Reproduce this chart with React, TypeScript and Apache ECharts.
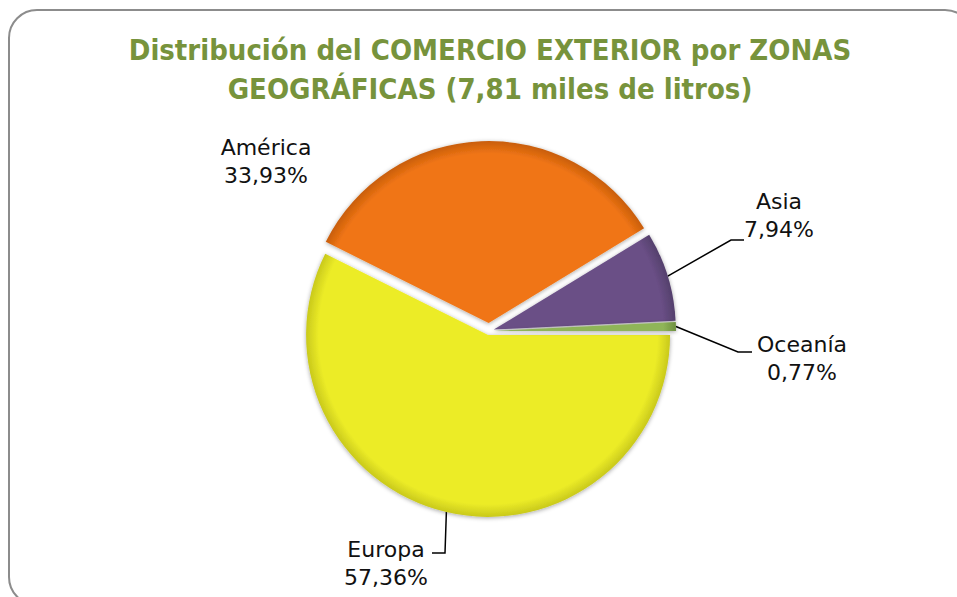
import React, { useEffect, useRef } from 'react';
import * as echarts from 'echarts';

const zones = ['Europa', 'América', 'Asia', 'Oceanía'];
const shares = [57.36, 33.93, 7.94, 0.77];
const sliceColors = ['#ECEC27', '#F07514', '#6A4F86', '#8FB558'];
const sliceRims = ['#C9C91C', '#C85E0C', '#54406C', '#6E9040'];
const explodePx = [4, 8, 5, 5];
const titleText = 'Distribución del COMERCIO EXTERIOR por ZONAS\nGEOGRÁFICAS (7,81 miles de litros)';

// label centre and leader-line elbows (page px)
const labelSpots: Record<number, { x: number; y: number; line: number[][] | null }> = {
  0: { x: 386, y: 563, line: [[445, 553], [432, 553]] },
  1: { x: 266, y: 161, line: null },
  2: { x: 779, y: 215, line: [[731, 240], [744, 240]] },
  3: { x: 802, y: 358, line: [[738, 352], [752, 352]] },
};

const CENTER = [489, 331];
const RADIUS = 182;

function fmt(v: number) {
  return v.toFixed(2).replace('.', ',');
}

export default function App() {
  const ref = useRef<HTMLDivElement>(null);
  useEffect(() => {
    if (!ref.current) return;
    const chart = echarts.init(ref.current, undefined, { renderer: 'svg' });
    const total = shares.reduce((a, b) => a + b, 0);
    let cum = 0;
    const series = zones.map((zone, k) => {
      const mid = -((cum + shares[k] / 2) / total) * 2 * Math.PI;
      cum += shares[k];
      const cx = CENTER[0] + Math.cos(mid) * explodePx[k];
      const cy = CENTER[1] - Math.sin(mid) * explodePx[k];
      return {
        type: 'pie',
        center: [cx, cy],
        radius: RADIUS,
        startAngle: 0,
        clockwise: true,
        avoidLabelOverlap: false,
        emphasis: { disabled: true },
        z: 2,
        data: zones.map((name, i) => ({
          name,
          value: shares[i],
          itemStyle:
            i === k
              ? {
                  color: {
                    type: 'radial',
                    x: cx,
                    y: cy,
                    r: RADIUS,
                    global: true,
                    colorStops: [
                      { offset: 0, color: sliceColors[i] },
                      { offset: 0.93, color: sliceColors[i] },
                      { offset: 1, color: sliceRims[i] },
                    ],
                  },
                  shadowBlur: 4,
                  shadowColor: 'rgba(0,0,0,0.35)',
                  shadowOffsetY: 1,
                }
              : { color: 'rgba(0,0,0,0)' },
          label: { show: i === k },
          labelLine: { show: i === k && labelSpots[i].line !== null },
        })),
        label: {
          position: 'outside',
          formatter: (p: any) => `${p.name}\n${fmt(p.value)}%`,
          fontFamily: 'DejaVu Sans',
          fontSize: 22,
          lineHeight: 28,
          color: '#111',
          align: 'center',
        },
        labelLine: {
          length: 20,
          length2: 10,
          lineStyle: { color: '#000', width: 1.5 },
        },
        labelLayout: (p: any) => {
          const spot = labelSpots[p.dataIndex];
          const out: any = { x: spot.x, y: spot.y, align: 'center', verticalAlign: 'middle' };
          if (spot.line && p.labelLinePoints) {
            out.labelLinePoints = [p.labelLinePoints[0], spot.line[0], spot.line[1]];
          }
          return out;
        },
      };
    });

    chart.setOption({
      animation: false,
      backgroundColor: '#fff',
      title: {
        text: titleText,
        left: 485,
        textAlign: 'center',
        top: 25,
        textStyle: {
          fontFamily: 'DejaVu Sans Condensed, DejaVu Sans',
          fontSize: 29,
          fontWeight: 'bold',
          color: '#77933C',
          lineHeight: 39,
        },
      },
      graphic: [
        {
          type: 'rect',
          shape: { x: 9, y: 10, width: 964, height: 595, r: 28 },
          style: { fill: 'none', stroke: '#8C8C8C', lineWidth: 2 },
          z: 0,
        },
      ],
      series,
    });
    return () => chart.dispose();
  }, []);
  return <div ref={ref} style={{ position: 'fixed', left: 0, top: 0, width: 957, height: 597 }} />;
}
